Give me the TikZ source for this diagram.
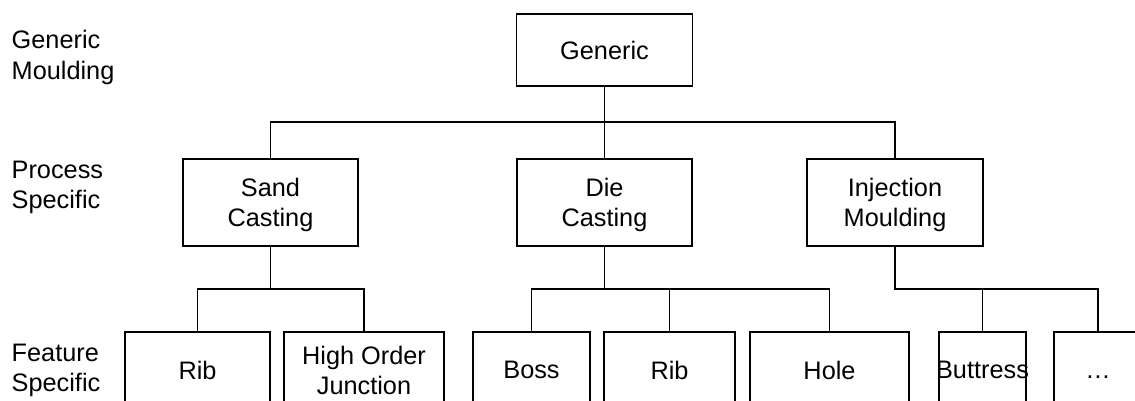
\documentclass[tikz,border=0pt]{standalone}
\usepackage{fontspec}
\setmainfont{Liberation Sans}
\begin{document}
\begin{tikzpicture}[x=1pt,y=-1pt,
  box/.style={draw, line width=1.8pt, inner sep=0pt, outer sep=0pt, align=center,
    font=\fontsize{25.3}{30}\selectfont, text depth=0pt},
  lab/.style={anchor=north west, inner sep=0pt, outer sep=0pt, align=left,
    font=\fontsize{25.3}{30.5}\selectfont},
  conn/.style={line width=1.8pt}]
\useasboundingbox (0,0) rectangle (1135,401);
\clip (0,0) rectangle (1135,401);
% level labels
\node[lab] (l1) at (11.7,30.3) {Generic\\Moulding};
\node[lab] (l2) at (11.7,161) {Process\\Specific};
\node[lab] (l3) at (11.7,343.8) {Feature\\Specific};
% top
\node[box, minimum width=176pt, minimum height=72pt] (gen) at (604.5,50) {Generic};
% process
\node[box, minimum width=175pt, minimum height=87pt] (sand) at (270.5,202.5) {Sand\\Casting};
\node[box, minimum width=175pt, minimum height=87pt] (die) at (604.5,202.5) {Die\\Casting};
\node[box, minimum width=176pt, minimum height=87pt] (inj) at (895,202.5) {Injection\\Moulding};
% features
\node[box, minimum width=145pt, minimum height=76pt] (rib1) at (197.5,370) {Rib};
\node[box, minimum width=160pt, minimum height=76pt] (hoj) at (364,370) {High Order\\Junction};
\node[box, minimum width=117pt, minimum height=76pt] (boss) at (531.5,370) {Boss};
\node[box, minimum width=131pt, minimum height=76pt] (rib2) at (669.5,370) {Rib};
\node[box, minimum width=159pt, minimum height=76pt] (hole) at (829.5,370) {Hole};
\node[box, minimum width=87pt, minimum height=76pt] (butt) at (982.5,370) {\makebox[0pt]{Buttress}};
\node[box, minimum width=88pt, minimum height=76pt] (dots) at (1098,370) {\vphantom{R}…};
% junction points
\coordinate (gj) at (604.5,122);
\coordinate (sj) at (270.5,289);
\coordinate (dj) at (604.5,289);
\coordinate (ij) at (895,289);
% connectors
\draw[conn] (gen.south) -- (die.north);
\draw[conn] (sand.north) |- (gj) -| (inj.north);
\draw[conn] (sand.south) -- (sj);
\draw[conn] (rib1.north) |- (sj) -| (hoj.north);
\draw[conn] (die.south) -- (dj);
\draw[conn] (boss.north) |- (dj) -| (hole.north);
\draw[conn] (rib2.north) -- (rib2.north |- dj);
\draw[conn] (inj.south) -- (ij) -| (dots.north);
\draw[conn] (butt.north) -- (butt.north |- ij);
\end{tikzpicture}
\end{document}
